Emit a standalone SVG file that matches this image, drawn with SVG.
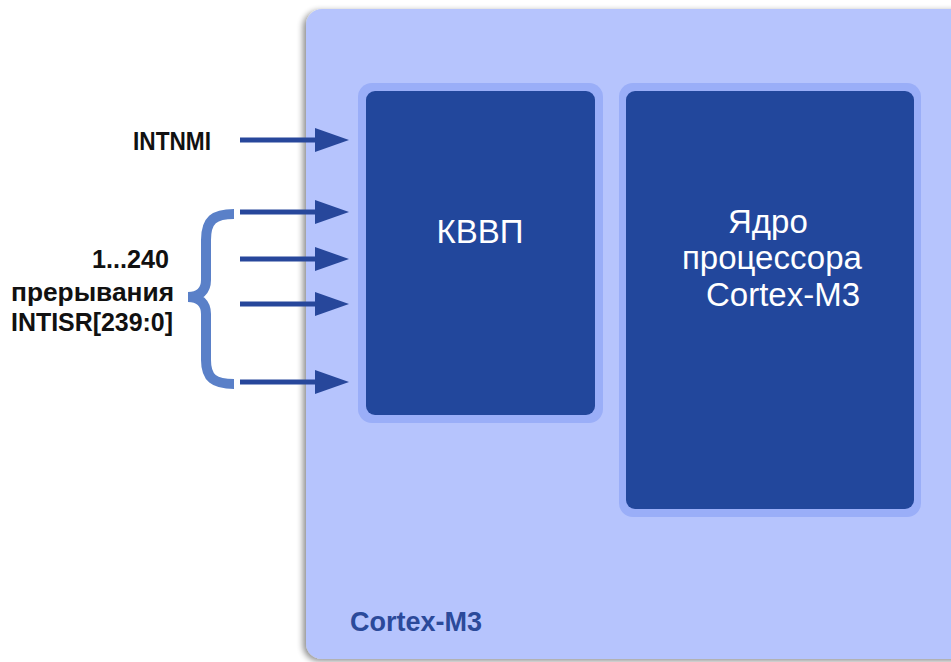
<svg xmlns="http://www.w3.org/2000/svg" width="951" height="662" viewBox="0 0 951 662">
<defs>
<style>
.lbl{font-family:"Liberation Sans",Arial,sans-serif;font-weight:bold;fill:#111;font-size:25px}
.wt{font-family:"Liberation Sans",Arial,sans-serif;fill:#fff;font-size:33px}
.sh{stroke:#27479b;stroke-width:5;fill:none}
.ah{fill:#27479b}
.halo{fill:#9aaef8}
.core{fill:#22479c}
</style>
<filter id="shadow" x="-5%" y="-5%" width="110%" height="110%">
<feGaussianBlur in="SourceAlpha" stdDeviation="3"/>
<feOffset dx="-3" dy="2" result="b"/>
<feComponentTransfer><feFuncA type="linear" slope="0.45"/></feComponentTransfer>
<feMerge><feMergeNode/><feMergeNode in="SourceGraphic"/></feMerge>
</filter>
</defs>
<rect width="951" height="662" fill="#ffffff"/>
<g id="cortex-m3">
<rect x="306" y="9" width="670" height="650" rx="16" fill="#b6c4fd" filter="url(#shadow)"/>
<text x="350" y="631" style="font-family:'Liberation Sans',Arial,sans-serif;font-weight:bold;font-size:27px;fill:#2b4a9a">Cortex-M3</text>
</g>
<g id="kvvp">
<rect class="halo" x="358" y="83" width="245" height="340" rx="14"/>
<rect class="core" x="366" y="91" width="229" height="324" rx="9"/>
<text class="wt" x="480" y="243" text-anchor="middle">КВВП</text>
</g>
<g id="core">
<rect class="halo" x="619" y="83" width="302" height="434" rx="14"/>
<rect class="core" x="626" y="91" width="288" height="418" rx="9"/>
<text class="wt" x="728" y="233">Ядро</text>
<text class="wt" x="682" y="269">процессора</text>
<text class="wt" x="706" y="306">Cortex-M3</text>
</g>
<g id="labels">
<text class="lbl" x="133" y="150" textLength="78" lengthAdjust="spacingAndGlyphs">INTNMI</text>
<text class="lbl" x="92" y="268" textLength="77" lengthAdjust="spacingAndGlyphs">1...240</text>
<text class="lbl" x="11" y="301" textLength="163" lengthAdjust="spacingAndGlyphs">прерывания</text>
<text class="lbl" x="11" y="331" textLength="162" lengthAdjust="spacingAndGlyphs">INTISR[239:0]</text>
</g>
<g id="brace">
<path d="M 234 214 C 214 214 206 220 206 240 L 206 280 C 206 291 199 297 188 297 C 199 297 206 303 206 314 L 206 360 C 206 378 214 384 234 384" fill="none" stroke="#5a80c8" stroke-width="10"/>
</g>
<g id="connectors">
<line class="sh" x1="240" y1="140" x2="318" y2="140"/>
<polygon class="ah" points="315,128 349,140 315,152"/>
<line class="sh" x1="240" y1="212" x2="318" y2="212"/>
<polygon class="ah" points="315,200 349,212 315,224"/>
<line class="sh" x1="240" y1="259" x2="318" y2="259"/>
<polygon class="ah" points="315,247 349,259 315,271"/>
<line class="sh" x1="240" y1="304" x2="318" y2="304"/>
<polygon class="ah" points="315,292 349,304 315,316"/>
<line class="sh" x1="240" y1="382" x2="318" y2="382"/>
<polygon class="ah" points="315,370 349,382 315,394"/>
</g>
</svg>
